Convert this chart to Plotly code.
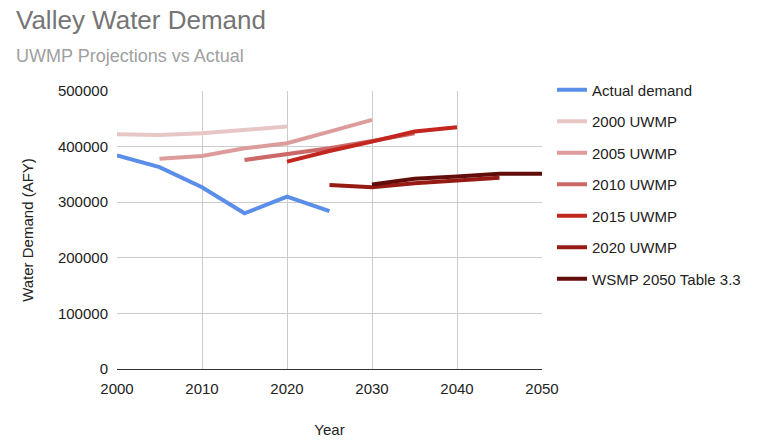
import plotly.graph_objects as go

years_actual = [2000, 2005, 2010, 2015, 2020, 2025]
actual_demand = [384000, 363000, 327000, 280000, 310000, 284000]

years_2000 = [2000, 2005, 2010, 2015, 2020]
uwmp_2000 = [422000, 421000, 424000, 430000, 436000]

years_2005 = [2005, 2010, 2015, 2020, 2025, 2030]
uwmp_2005 = [378000, 383000, 397000, 406000, 427000, 448000]

years_2010 = [2015, 2020, 2025, 2030, 2035]
uwmp_2010 = [376000, 386000, 397000, 410000, 424000]

years_2015 = [2020, 2025, 2030, 2035, 2040]
uwmp_2015 = [373000, 392000, 409000, 427000, 435000]

years_2020 = [2025, 2030, 2035, 2040, 2045]
uwmp_2020 = [331000, 327000, 334000, 339000, 344000]

years_wsmp = [2030, 2035, 2040, 2045, 2050]
wsmp_2050 = [332000, 342000, 346000, 351000, 351000]

series = [
    ("Actual demand", years_actual, actual_demand, "#5b8ee8"),
    ("2000 UWMP", years_2000, uwmp_2000, "#e8c6c6"),
    ("2005 UWMP", years_2005, uwmp_2005, "#dd9c9c"),
    ("2010 UWMP", years_2010, uwmp_2010, "#cd6868"),
    ("2015 UWMP", years_2015, uwmp_2015, "#c2261e"),
    ("2020 UWMP", years_2020, uwmp_2020, "#971a14"),
    ("WSMP 2050 Table 3.3", years_wsmp, wsmp_2050, "#620d0a"),
]

x_ticks = [2000, 2010, 2020, 2030, 2040, 2050]
y_ticks = [0, 100000, 200000, 300000, 400000, 500000]

fig = go.Figure()
for i, (name, xs, ys, color) in enumerate(series):
    fig.add_trace(go.Scatter(
        x=xs, y=ys, name=name, mode="lines",
        line=dict(color=color, width=4),
        legendgroup=f"g{i}",
    ))

FONT = "Liberation Sans, Arial, sans-serif"

fig.update_layout(
    width=768, height=444,
    margin=dict(l=117, r=226, t=91, b=75),
    paper_bgcolor="white", plot_bgcolor="white",
    font=dict(family=FONT, size=15, color="#222222"),
    showlegend=True,
    legend=dict(
        x=1.0235, y=1.063, xanchor="left", yanchor="top",
        font=dict(family=FONT, size=15, color="#222222"),
        tracegroupgap=9, itemwidth=30, maxheight=420,
        bgcolor="rgba(0,0,0,0)",
    ),
    xaxis=dict(
        range=[2000, 2050], tickvals=x_ticks, ticktext=[str(t) for t in x_ticks],
        showgrid=True, gridcolor="#cccccc", gridwidth=1,
        showline=True, linecolor="#333333", linewidth=1, mirror=False,
        zeroline=False, ticks="", tickfont=dict(size=15, color="#222222"),
        ticklabelstandoff=6, automargin=False,
        title=dict(text="Year", font=dict(size=15, color="#222222"), standoff=28),
        fixedrange=True,
    ),
    yaxis=dict(
        range=[0, 500000], tickvals=y_ticks, ticktext=[str(t) for t in y_ticks],
        showgrid=True, gridcolor="#cccccc", gridwidth=1,
        showline=False, zeroline=False, ticks="",
        tickfont=dict(size=15, color="#222222"),
        ticklabelstandoff=8, automargin=False,
        title=dict(text="Water Demand (AFY)", font=dict(size=15, color="#222222"), standoff=20),
        fixedrange=True,
    ),
)

fig.add_annotation(
    text="Valley Water Demand", xref="paper", yref="paper",
    x=(14 - 117) / 425, y=(369 - 20) / 278, xanchor="left", yanchor="middle",
    showarrow=False, font=dict(family=FONT, size=26, color="#757575"),
)
fig.add_annotation(
    text="UWMP Projections vs Actual", xref="paper", yref="paper",
    x=(14 - 117) / 425, y=(369 - 56) / 278, xanchor="left", yanchor="middle",
    showarrow=False, font=dict(family=FONT, size=18, color="#a0a0a0"),
)

fig.write_html("out.html")
